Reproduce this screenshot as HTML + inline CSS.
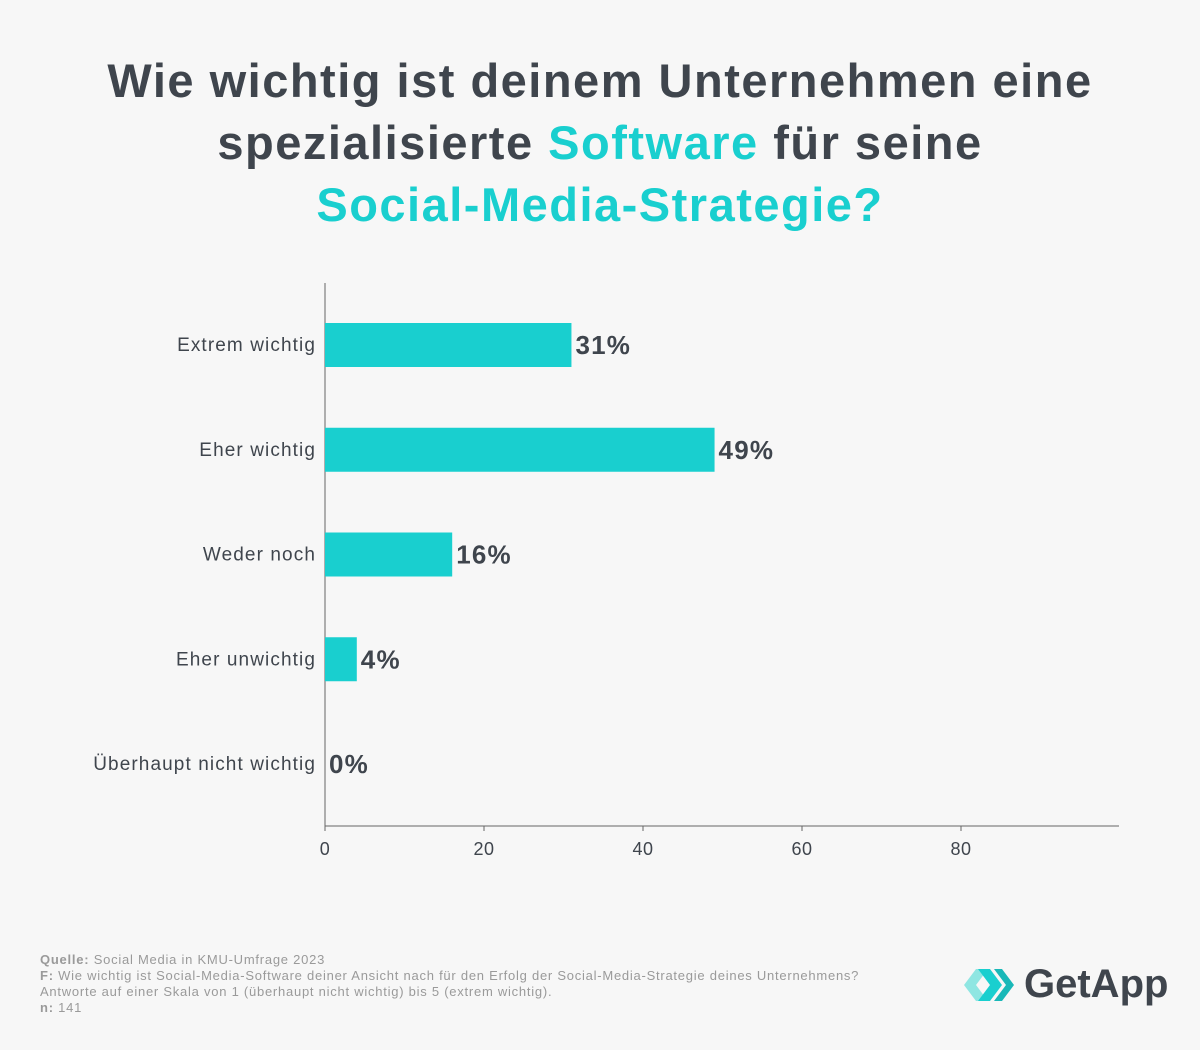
<!DOCTYPE html>
<html><head><meta charset="utf-8"><style>
body{margin:0;background:#f7f7f7;font-family:"Liberation Sans",sans-serif;}
#wrap{position:relative;width:1200px;height:1050px;overflow:hidden;background:#f7f7f7}
h1{position:absolute;top:50px;left:0;width:1200px;margin:0;text-align:center;font-size:47px;line-height:62px;font-weight:bold;color:#3f454d;letter-spacing:1.5px}
.t{color:#19cfcf}
.foot{position:absolute;left:40px;top:952px;font-size:13px;line-height:16px;color:#9a9a9a;letter-spacing:0.75px}
.foot b{color:#9a9a9a}
</style></head><body>
<div id="wrap">
<h1>Wie wichtig ist deinem Unternehmen eine<br>spezialisierte <span class="t">Software</span> für seine<br><span class="t">Social-Media-Strategie?</span></h1>
<svg id="chart" width="1200" height="1050" style="position:absolute;left:0;top:0"></svg>
<div class="foot"><b>Quelle:</b> Social Media in KMU-Umfrage 2023<br><b>F:</b> Wie wichtig ist Social-Media-Software deiner Ansicht nach für den Erfolg der Social-Media-Strategie deines Unternehmens?<br>Antworte auf einer Skala von 1 (überhaupt nicht wichtig) bis 5 (extrem wichtig).<br><b>n:</b> 141</div>
<div style="position:absolute;left:964px;top:964px;width:210px;height:44px">
<svg width="60" height="44" style="position:absolute;left:0;top:0"><polygon points="0,21 12,5 24,5 12,21 24,37 12,37" fill="#8fe6e2"/><polygon points="14,5 26,5 38,21 26,37 14,37 26,21" fill="#19cfcf"/><polygon points="30,5 38,5 50,21 38,37 30,37 42,21" fill="#19b8b8"/></svg>
<span style="position:absolute;left:60px;top:-2px;font-size:40px;font-weight:bold;color:#3f454d">GetApp</span></div>
</div>
<script>
const categories=["Extrem wichtig","Eher wichtig","Weder noch","Eher unwichtig","Überhaupt nicht wichtig"];
const values=[31,49,16,4,0];
const ticks=[0,20,40,60,80];
const svg=document.getElementById('chart');
const NS='http://www.w3.org/2000/svg';
const x0=325,pxPer=7.95,yTop=283,yBot=826,y0=345,step=104.75,bh=44;
const xs=v=>x0+v*pxPer, ys=i=>y0+i*step;
function mk(t,a){const e=document.createElementNS(NS,t);for(const k in a)e.setAttribute(k,a[k]);svg.appendChild(e);return e;}
let e=mk('line',{x1:x0,y1:yTop,x2:x0,y2:yBot,stroke:'#666','stroke-width':1});


e=mk('line',{x1:x0,y1:yBot,x2:1119,y2:yBot,stroke:'#666','stroke-width':1});


ticks.forEach(t=>{
 let l=mk('line',{x1:xs(t),y1:yBot,x2:xs(t),y2:yBot+5,stroke:'#666'});
 
 
 let tx=mk('text',{x:xs(t),y:yBot+29,'text-anchor':'middle','font-size':18,'letter-spacing':0.5,fill:'#3f454d','font-family':'Liberation Sans, sans-serif'});
 tx.textContent=t;
 
 
});
categories.forEach((c,i)=>{
 const y=ys(i);
 let r=mk('rect',{x:x0,y:y-bh/2,width:Math.max(0,xs(values[i])-x0),height:bh,fill:'#19cfcf'});
 
 
 let lb=mk('text',{x:316,y:y+6,'text-anchor':'end','font-size':19,'letter-spacing':1.1,fill:'#3f454d','font-family':'Liberation Sans, sans-serif'});
 lb.textContent=c;
 
 
 let v=mk('text',{x:xs(values[i])+4,y:y+9,'font-size':26,'font-weight':'bold','letter-spacing':1.2,fill:'#3f454d','font-family':'Liberation Sans, sans-serif'});
 v.textContent=values[i]+'%';
 
 
});
</script>
</body></html>
